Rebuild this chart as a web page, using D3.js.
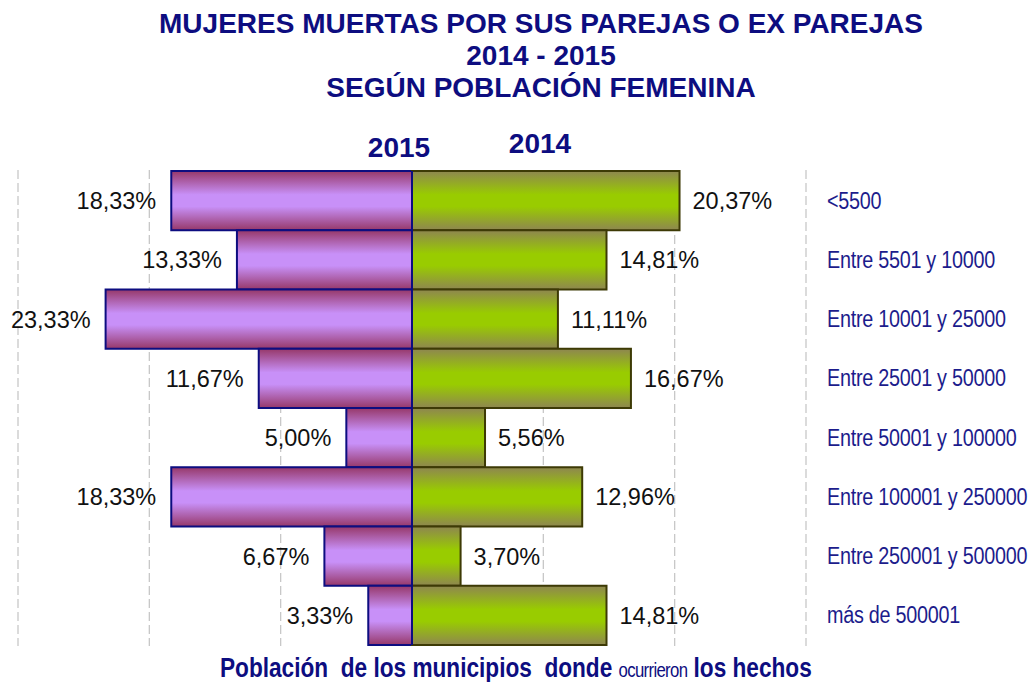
<!doctype html>
<html lang="es">
<head>
<meta charset="UTF-8">
<title>Mujeres muertas por sus parejas o ex parejas</title>
<script src="https://cdn.jsdelivr.net/npm/d3@7"></script>
<style>
  body { margin: 0; background: #fff; }
  svg text { font-family: Arial, "Liberation Sans", sans-serif; }
</style>
</head>
<body>
<script>
// datos
var categorias = ["<5500", "Entre 5501 y 10000", "Entre 10001 y 25000", "Entre 25001 y 50000",
  "Entre 50001 y 100000", "Entre 100001 y 250000", "Entre 250001 y 500000", "más de 500001"];
var valores2015 = [18.33, 13.33, 23.33, 11.67, 5.00, 18.33, 6.67, 3.33];
var valores2014 = [20.37, 14.81, 11.11, 16.67, 5.56, 12.96, 3.70, 14.81];
var lineasGuia = [-30, -20, -10, 10, 20, 30];
var titulo = ["MUJERES MUERTAS POR SUS PAREJAS O EX PAREJAS", "2014 - 2015", "SEGÚN POBLACIÓN FEMENINA"];

var w = 1033, h = 682;
var navy = "#0d0d80";
var svg = d3.select("body").append("svg").attr("width", w).attr("height", h);

var x = d3.scaleLinear().domain([-30, 30]).range([18, 806]);
var y = d3.scaleBand().domain(categorias).range([171, 645]).padding(0);
var fmt = function(v){ return d3.format(".2f")(v).replace(".", ",") + "%"; };

// degradados
var defs = svg.append("defs");
function grad(id, edge, mid){
  var g = defs.append("linearGradient").attr("id", id)
    .attr("x1", 0).attr("y1", 0).attr("x2", 0).attr("y2", 1);
  [[0, edge], [0.4, mid], [0.6, mid], [1, edge]].forEach(function(s){
    g.append("stop").attr("offset", s[0]).attr("stop-color", s[1]);
  });
}
grad("gMorado", "#963869", "#c890f8");
grad("gVerde", "#8e8650", "#99cc00");

// titulo
svg.selectAll("text.titulo").data(titulo).enter().append("text")
  .attr("class", "titulo")
  .attr("x", 541).attr("y", function(d, i){ return 33 + i * 32; })
  .attr("text-anchor", "middle")
  .attr("font-size", "28px").attr("font-weight", "bold").attr("fill", navy)
  .text(function(d){ return d; });

// lineas de guia
svg.selectAll("line.guia").data(lineasGuia).enter().append("line")
  .attr("x1", function(d){ return x(d); }).attr("x2", function(d){ return x(d); })
  .attr("y1", 170).attr("y2", 646)
  .attr("stroke", "#c8c8c8").attr("stroke-width", 1.3)
  .attr("stroke-dasharray", "9,4");

// barras 2015 (izquierda)
svg.selectAll("rect.b2015").data(valores2015).enter().append("rect")
  .attr("class", "b2015")
  .attr("x", function(d){ return x(-d); })
  .attr("y", function(d, i){ return y(categorias[i]); })
  .attr("width", function(d){ return x(0) - x(-d); })
  .attr("height", y.bandwidth())
  .attr("fill", "url(#gMorado)")
  .attr("stroke", navy).attr("stroke-width", 2);

// barras 2014 (derecha)
svg.selectAll("rect.b2014").data(valores2014).enter().append("rect")
  .attr("class", "b2014")
  .attr("x", x(0))
  .attr("y", function(d, i){ return y(categorias[i]); })
  .attr("width", function(d){ return x(d) - x(0); })
  .attr("height", y.bandwidth())
  .attr("fill", "url(#gVerde)")
  .attr("stroke", "#3d3a05").attr("stroke-width", 2);

// eje central
svg.append("line")
  .attr("x1", x(0)).attr("x2", x(0)).attr("y1", 171).attr("y2", 645)
  .attr("stroke", navy).attr("stroke-width", 2);

// etiquetas de valores
svg.selectAll("text.v2015").data(valores2015).enter().append("text")
  .attr("x", function(d){ return x(-d) - 15; })
  .attr("y", function(d, i){ return y(categorias[i]) + y.bandwidth() / 2 + 8.5; })
  .attr("text-anchor", "end")
  .attr("font-family", "Lato, 'Open Sans', sans-serif").attr("font-size", "23.5px").attr("fill", "#111")
  .text(fmt);
svg.selectAll("text.v2014").data(valores2014).enter().append("text")
  .attr("x", function(d){ return x(d) + 13; })
  .attr("y", function(d, i){ return y(categorias[i]) + y.bandwidth() / 2 + 8.5; })
  .attr("text-anchor", "start")
  .attr("font-family", "Lato, 'Open Sans', sans-serif").attr("font-size", "23.5px").attr("fill", "#111")
  .text(fmt);

// categorias (texto estrecho)
svg.selectAll("text.cat").data(categorias).enter().append("text")
  .attr("transform", function(d){ return "translate(827," + (y(d) + y.bandwidth() / 2 + 8) + ") scale(0.86,1)"; })
  .attr("font-size", "23px").attr("letter-spacing", "-0.3px")
  .attr("fill", "#1c1c8c")
  .text(function(d){ return d; });

// encabezados de serie
svg.append("text").attr("x", 399).attr("y", 157).attr("text-anchor", "middle")
  .attr("font-size", "28px").attr("font-weight", "bold").attr("fill", navy).text("2015");
svg.append("text").attr("x", 540).attr("y", 153).attr("text-anchor", "middle")
  .attr("font-size", "28px").attr("font-weight", "bold").attr("fill", navy).text("2014");

// titulo del eje (ajustado al ancho 220..812)
var eje = svg.append("text")
  .style("white-space", "pre")
  .attr("font-weight", "bold").attr("fill", navy);
eje.append("tspan").attr("font-size", "27px").text("Población  de los municipios  donde ");
eje.append("tspan").attr("font-size", "20px").attr("font-weight", "normal").attr("letter-spacing", "-0.8px").text("ocurrieron");
eje.append("tspan").attr("font-size", "27px").text(" los hechos");
var anchoEje = eje.node().getComputedTextLength();
eje.attr("transform", "translate(220,677) scale(" + (592 / anchoEje) + ",1)");
</script>
</body>
</html>
